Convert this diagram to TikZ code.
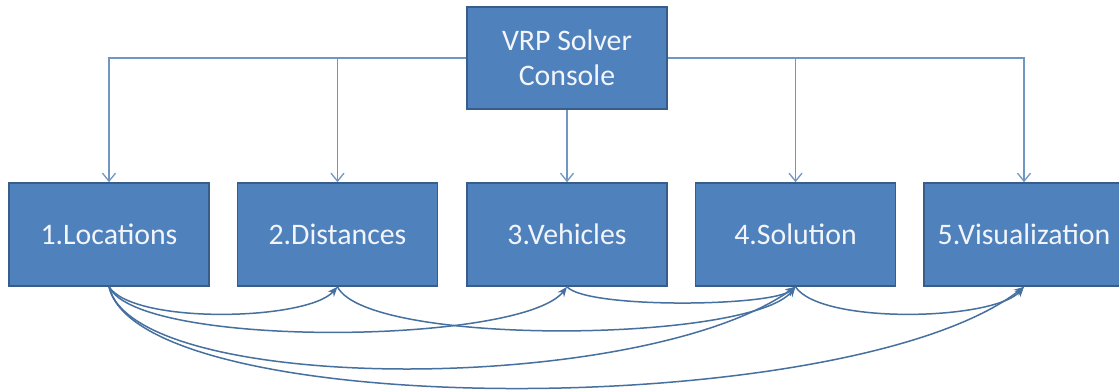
\documentclass[tikz,border=0pt]{standalone}
\usepackage{fontspec}
\setmainfont{Carlito}
\usetikzlibrary{arrows.meta}
\definecolor{boxfill}{HTML}{4F81BD}
\definecolor{boxline}{HTML}{385D8A}
\definecolor{txt}{HTML}{F2F5FA}
\definecolor{toplink}{HTML}{7096C4}
\definecolor{curvlink}{HTML}{46709F}
\tikzset{
  blk/.style={draw=boxline, line width=1.6pt, fill=boxfill, minimum width=200pt, minimum height=103pt,
    inner sep=0pt, text=txt, align=center, font=\fontsize{29.8}{34.5}\selectfont},
  toplink/.style={draw=toplink, line width=1.3pt, -{Straight Barb[length=8pt,width=13pt,line width=1.3pt]}},
  curvlink/.style={draw=curvlink, line width=1.5pt, -{Stealth[length=10pt,width=8pt]}}
}
\begin{document}
\begin{tikzpicture}[x=1pt,y=-1pt]
\useasboundingbox (0,0) rectangle (1119,389);
\fill[white] (0,0) rectangle (1119,389);
\node[blk, minimum height=102pt] (top) at (567,58) {VRP Solver\\Console};
\node[blk] (n1) at (109,234.5) {1.Locations};
\node[blk] (n2) at (337.5,234.5) {2.Distances};
\node[blk] (n3) at (567,234.5) {3.Vehicles};
\node[blk] (n4) at (795.5,234.5) {4.Solution};
\node[blk] (n5) at (1024,234.5) {5.Visualization};
% top connectors
\draw[toplink] (top.west) -| (n1.north);
\draw[toplink] (top.west) -| (n2.north);
\draw[toplink] (top.south) -- (n3.north);
\draw[toplink] (top.east) -| (n4.north);
\draw[toplink] (top.east) -| (n5.north);
% bottom curved connectors
\draw[curvlink] (n1.south) .. controls +(25,38) and +(-30,34) .. (n2.south);
\draw[curvlink] (n1.south) .. controls +(30,62) and +(-45,58) .. (n3.south);
\draw[curvlink] (n2.south) .. controls +(30,60) and +(-45,56) .. (n4.south);
\draw[curvlink] (n1.south) .. controls +(26,109) and +(-155,109) .. (n4.south);
\draw[curvlink] (n1.south) .. controls +(31,135) and +(-174,135) .. (n5.south);
\draw[curvlink] (n3.south) .. controls +(20,22) and +(-25,20) .. (n4.south);
\draw[curvlink] (n4.south) .. controls +(25,38) and +(-30,34) .. (n5.south);
\end{tikzpicture}
\end{document}
